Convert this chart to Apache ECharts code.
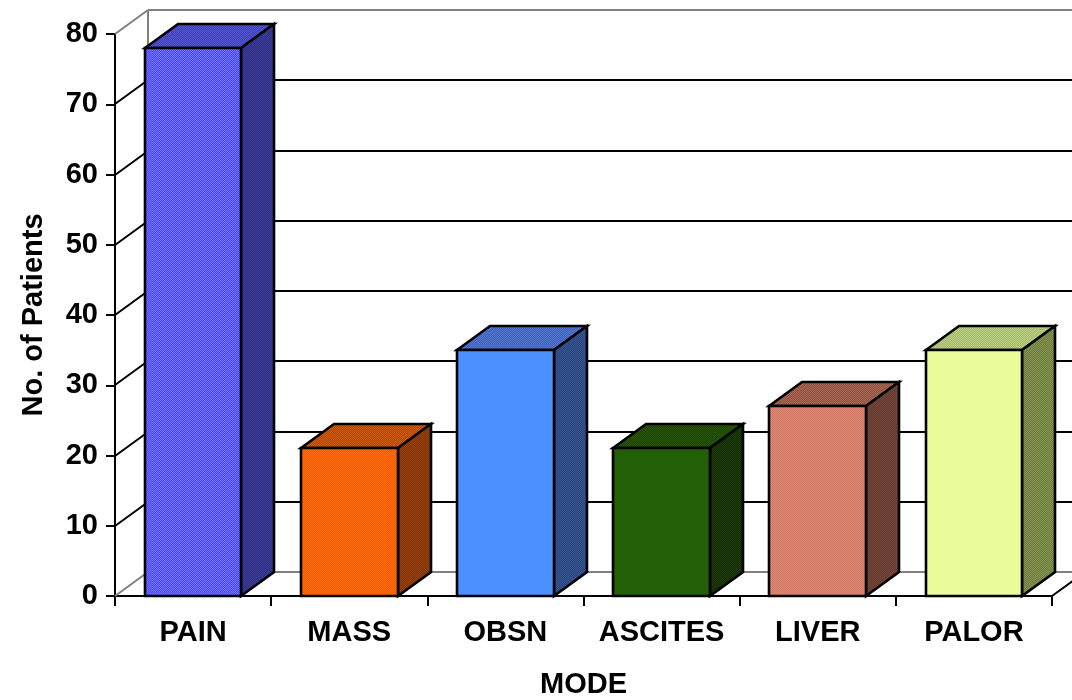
<!DOCTYPE html>
<html>
<head>
<meta charset="utf-8">
<title>No. of Patients by Mode</title>
<script src="https://cdn.jsdelivr.net/npm/echarts@6/dist/echarts.min.js"></script>
<style>
  html, body { margin: 0; padding: 0; background: #ffffff; }
  #chart { width: 1072px; height: 700px; }
</style>
</head>
<body>
<div id="chart"></div>
<script>
// ---- data ----
const categories = ['PAIN', 'MASS', 'OBSN', 'ASCITES', 'LIVER', 'PALOR'];
const patients = [78, 21, 35, 21, 27, 35];
const valueTicks = [0, 10, 20, 30, 40, 50, 60, 70, 80];

// ---- look ----
const DX = 33;     // depth offset of the 3D boxes, horizontal
const DY = -24;    // depth offset of the 3D boxes, vertical
const BAR_RATIO = 0.62;
const FONT = '"Liberation Sans", Arial, Helvetica, sans-serif';
const TEXT_SIZE = 29;

// fine two-colour dither used as a fill texture
function dither(a, b) {
  const n = 8;
  const c = document.createElement('canvas');
  c.width = n; c.height = n;
  const g = c.getContext('2d');
  g.fillStyle = a; g.fillRect(0, 0, n, n);
  g.fillStyle = b;
  for (let y = 0; y < n; y++) {
    for (let x = 0; x < n; x++) {
      if ((x + y) % 2 === 0) g.fillRect(x, y, 1, 1);
    }
  }
  return { image: c, repeat: 'repeat' };
}

const faces = [
  { front: dither('#4a4aff', '#7070f2'), top: dither('#4040ba', '#5454ce'), side: dither('#2e2e84', '#3c3c94') },
  { front: dither('#ff5400', '#ff7010'), top: dither('#b44800', '#cc5a14'), side: dither('#843404', '#944010') },
  { front: dither('#4098ff', '#5a88ff'), top: dither('#4064bc', '#5474cc'), side: dither('#2a4480', '#365490') },
  { front: dither('#1a6804', '#2c580c'), top: dither('#1c4a06', '#28500a'), side: dither('#142e06', '#1c380a') },
  { front: dither('#e8846e', '#c87c6a'), top: dither('#945444', '#a46454'), side: dither('#643a2e', '#74463a') },
  { front: dither('#f2ffa0', '#e2fa92'), top: dither('#a8bc70', '#b8cc80'), side: dither('#707e42', '#80924e') }
];

// walls: left side wall diagonals, back wall grid lines and the floor
function renderWalls(params, api) {
  const cs = params.coordSys;
  const v = api.value(1);
  const y = Math.round(api.coord([0, v])[1]);
  const yBase = Math.round(api.coord([0, 0])[1]);
  const left = Math.round(cs.x), right = Math.round(cs.x + cs.width);
  const maxV = valueTicks[valueTicks.length - 1];
  const edge = (v === 0 || v === maxV);
  const col = edge ? '#808080' : '#000000';
  const children = [
    { type: 'line', shape: { x1: left, y1: y, x2: left + DX, y2: y + DY },
      style: { stroke: col, lineWidth: 2 } },
    { type: 'line', shape: { x1: left + DX, y1: y + DY, x2: right + DX, y2: y + DY },
      style: { stroke: col, lineWidth: 2 } }
  ];
  if (v === 0) {
    children.push({ type: 'line', shape: { x1: right, y1: y, x2: right + DX, y2: y + DY },
      style: { stroke: '#000000', lineWidth: 2 } });
  }
  if (v === maxV) {
    children.push({ type: 'line', shape: { x1: left + DX, y1: y + DY, x2: left + DX, y2: yBase + DY },
      style: { stroke: '#808080', lineWidth: 2 } });
  }
  return { type: 'group', children };
}

// one 3D box per category
function renderBox(params, api) {
  const i = api.value(0), v = api.value(1);
  const top = api.coord([i, v]);
  const base = api.coord([i, 0]);
  const w = api.size([1, 0])[0] * BAR_RATIO;
  const x0 = Math.round(top[0] - w / 2), x1 = Math.round(top[0] + w / 2);
  const yt = Math.round(top[1]), yb = Math.round(base[1]);
  const f = faces[params.dataIndex];
  const line = { stroke: '#000000', lineWidth: 2.6, lineJoin: 'miter' };
  return {
    type: 'group',
    children: [
      { type: 'polygon', shape: { points: [[x0, yt], [x0 + DX, yt + DY], [x1 + DX, yt + DY], [x1, yt]] },
        style: Object.assign({ fill: f.top }, line) },
      { type: 'polygon', shape: { points: [[x1, yt], [x1 + DX, yt + DY], [x1 + DX, yb + DY], [x1, yb]] },
        style: Object.assign({ fill: f.side }, line) },
      { type: 'rect', shape: { x: x0, y: yt, width: x1 - x0, height: yb - yt },
        style: Object.assign({ fill: f.front }, line) }
    ]
  };
}

const chart = echarts.init(document.getElementById('chart'), null, { renderer: 'canvas' });
chart.setOption({
  animation: false,
  backgroundColor: '#ffffff',
  grid: { left: 115, right: 20, top: 34, bottom: 104, containLabel: false, outerBoundsMode: 'none' },
  xAxis: {
    type: 'category',
    data: categories,
    name: 'MODE',
    nameLocation: 'middle',
    nameGap: 74,
    nameTextStyle: { fontFamily: FONT, fontWeight: 'bold', fontSize: TEXT_SIZE, color: '#000' },
    axisLine: { lineStyle: { color: '#000', width: 2 } },
    axisTick: { show: true, length: 10, interval: 0, alignWithLabel: false, lineStyle: { color: '#000', width: 2 } },
    axisLabel: { interval: 0, hideOverlap: false, margin: 22, fontFamily: FONT, fontWeight: 'bold', fontSize: TEXT_SIZE, color: '#000' },
    splitLine: { show: false }
  },
  yAxis: {
    type: 'value',
    min: valueTicks[0],
    max: valueTicks[valueTicks.length - 1],
    interval: valueTicks[1] - valueTicks[0],
    name: 'No. of Patients',
    nameLocation: 'middle',
    nameGap: 67,
    nameTextStyle: { fontFamily: FONT, fontWeight: 'bold', fontSize: TEXT_SIZE, color: '#000' },
    axisLine: { show: true, lineStyle: { color: '#000', width: 2 } },
    axisTick: { show: true, length: 9, lineStyle: { color: '#000', width: 2 } },
    axisLabel: { margin: 17, fontFamily: FONT, fontWeight: 'bold', fontSize: TEXT_SIZE, color: '#000' },
    splitLine: { show: false }
  },
  series: [
    {
      type: 'custom',
      name: 'walls',
      clip: false,
      silent: true,
      z: 1,
      renderItem: renderWalls,
      data: valueTicks.map(v => [0, v])
    },
    {
      type: 'custom',
      name: 'No. of Patients',
      clip: false,
      z: 2,
      renderItem: renderBox,
      data: patients.map((v, i) => [i, v])
    }
  ]
});
</script>
</body>
</html>
